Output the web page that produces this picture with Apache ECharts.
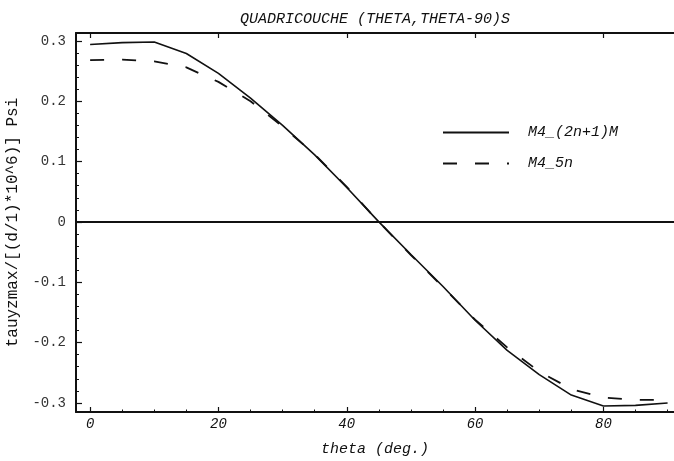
<!DOCTYPE html>
<html>
<head>
<meta charset="utf-8">
<script src="https://cdn.jsdelivr.net/npm/echarts@6/dist/echarts.min.js"></script>
<style>html,body{margin:0;padding:0;background:#fff;}#c{width:674px;height:461px;}</style>
</head>
<body>
<div id="c"></div>
<script>
// ---- data ----
var theta = [0, 5, 10, 15, 20, 25, 30, 35, 40, 45, 50, 55, 60, 65, 70, 75, 80, 85, 90];
var m4_2n1M = [0.294, 0.297, 0.298, 0.279, 0.246, 0.205, 0.160, 0.111, 0.057, 0.000, -0.054, -0.107, -0.163, -0.213, -0.253, -0.287, -0.305, -0.304, -0.300];
var m4_5n = [0.268, 0.269, 0.266, 0.256, 0.232, 0.200, 0.158, 0.112, 0.058, 0.000, -0.055, -0.108, -0.162, -0.208, -0.248, -0.277, -0.291, -0.295, -0.295];
var seriesNames = ['M4_(2n+1)M', 'M4_5n'];
var xTicks = [0, 20, 40, 60, 80];
var xMinorTicks = [5, 10, 15, 25, 30, 35, 45, 50, 55, 65, 70, 75, 85, 90];
var yTicks = [-0.3, -0.2, -0.1, 0, 0.1, 0.2, 0.3];
var yMinorTicks = [-0.28, -0.26, -0.24, -0.22, -0.18, -0.16, -0.14, -0.12, -0.08, -0.06, -0.04, -0.02,
                   0.02, 0.04, 0.06, 0.08, 0.12, 0.14, 0.16, 0.18, 0.22, 0.24, 0.26, 0.28];
var titleText = 'QUADRICOUCHE (THETA,THETA-90)S';
var xName = 'theta (deg.)';
var yName = 'tauyzmax/[(d/1)*10^6)] Psi';

function pairs(xs, ys) { return xs.map(function (x, i) { return [x, ys[i]]; }); }

var MONO = '"Liberation Mono", "DejaVu Sans Mono", monospace';
var ink = '#111';
var X_MIN = -2.2, X_MAX = 91, Y_MIN = -0.315, Y_MAX = 0.313;

var chart = echarts.init(document.getElementById('c'), null, { renderer: 'canvas' });
chart.setOption({
  backgroundColor: '#fff',
  animation: false,
  title: {
    text: titleText, left: 375, textAlign: 'center', top: 12, padding: 0,
    textStyle: { fontFamily: MONO, fontSize: 15, fontStyle: 'italic', fontWeight: 'normal', color: ink }
  },
  legend: {
    orient: 'vertical', left: 442, top: 125, padding: 0, itemWidth: 66, itemHeight: 14, itemGap: 16,
    data: seriesNames,
    itemStyle: { opacity: 0 },
    textStyle: { fontFamily: MONO, fontSize: 15, fontStyle: 'italic', color: ink, padding: [0, 0, 0, 14] }
  },
  grid: { left: 76, right: 0, top: 33, bottom: 49, containLabel: false, outerBoundsMode: 'none' },
  xAxis: [{
    type: 'value', min: X_MIN, max: X_MAX, position: 'bottom',
    name: xName, nameLocation: 'middle', nameGap: 30,
    nameTextStyle: { fontFamily: MONO, fontSize: 15, fontStyle: 'italic', color: ink },
    axisLine: { show: true, onZero: false, lineStyle: { color: ink, width: 2 } },
    axisTick: { show: true, inside: true, length: 5, customValues: xTicks, lineStyle: { color: ink, width: 1.2 } },
    axisLabel: { show: true, customValues: xTicks, margin: 5, fontFamily: MONO, fontSize: 14, fontStyle: 'italic', color: ink },
    splitLine: { show: false }
  }, {
    type: 'value', min: X_MIN, max: X_MAX, position: 'bottom',
    axisLine: { show: false, onZero: false },
    axisTick: { show: true, inside: true, length: 2.5, customValues: xMinorTicks, lineStyle: { color: ink, width: 1 } },
    axisLabel: { show: false }, splitLine: { show: false }
  }, {
    type: 'value', min: X_MIN, max: X_MAX, position: 'top',
    axisLine: { show: true, onZero: false, lineStyle: { color: ink, width: 2 } },
    axisTick: { show: true, inside: true, length: 5, customValues: xTicks, lineStyle: { color: ink, width: 1.2 } },
    axisLabel: { show: false }, splitLine: { show: false }
  }],
  yAxis: [{
    type: 'value', min: Y_MIN, max: Y_MAX, position: 'left',
    name: yName, nameLocation: 'middle', nameGap: 55, nameRotate: 90,
    nameTextStyle: { fontFamily: MONO, fontSize: 16, color: ink },
    axisLine: { show: true, onZero: false, lineStyle: { color: ink, width: 2 } },
    axisTick: { show: true, inside: true, length: 6, customValues: yTicks, lineStyle: { color: ink, width: 1.2 } },
    axisLabel: {
      show: true, customValues: yTicks, margin: 10, fontFamily: MONO, fontSize: 14, color: '#333',
      formatter: function (v) { return Math.abs(v) < 1e-9 ? '0' : v.toFixed(1); }
    },
    splitLine: { show: false }
  }, {
    type: 'value', min: Y_MIN, max: Y_MAX, position: 'left',
    axisLine: { show: false, onZero: false },
    axisTick: { show: true, inside: true, length: 3, customValues: yMinorTicks, lineStyle: { color: ink, width: 1 } },
    axisLabel: { show: false }, splitLine: { show: false }
  }],
  series: [{
    name: seriesNames[0], type: 'line', xAxisIndex: 0, yAxisIndex: 0,
    data: pairs(theta, m4_2n1M), symbol: 'none', smooth: false,
    lineStyle: { color: ink, width: 1.6, type: 'solid' }, itemStyle: { color: ink },
    markLine: {
      silent: true, symbol: ['none', 'none'], label: { show: false },
      lineStyle: { color: ink, width: 1.8, type: 'solid' },
      data: [{ yAxis: 0 }]
    }
  }, {
    name: seriesNames[1], type: 'line', xAxisIndex: 0, yAxisIndex: 0,
    data: pairs(theta, m4_5n), symbol: 'none', smooth: false,
    lineStyle: { color: ink, width: 1.8, type: [14, 18] }, itemStyle: { color: ink }
  }]
});
</script>
</body>
</html>
